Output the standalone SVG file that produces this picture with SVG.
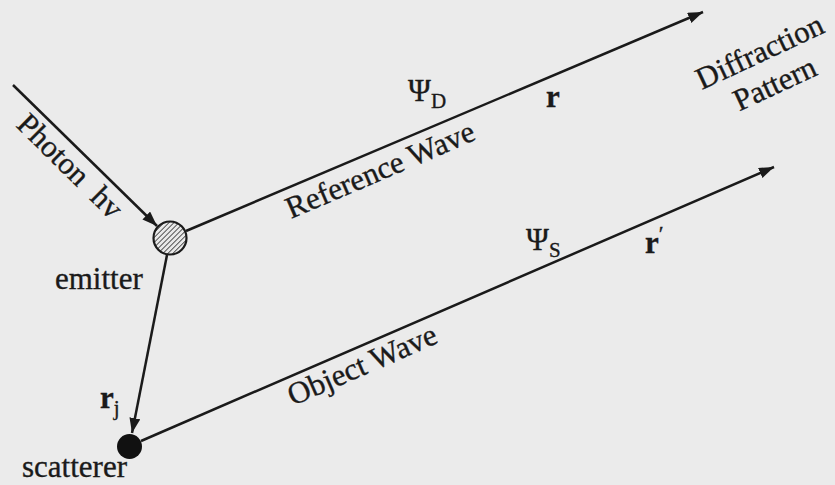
<svg xmlns="http://www.w3.org/2000/svg" width="835" height="485" viewBox="0 0 835 485">
  <style>
    .t { font-family: "Liberation Serif", "Times New Roman", serif; font-size: 31px; fill: #1a1a1a; stroke: #1a1a1a; stroke-width: 0.35px; }
    .b { font-weight: bold; }
    .ln { stroke: #1a1a1a; stroke-width: 2.5; fill: none; }
  </style>
  <defs>
    <marker id="arr" markerUnits="userSpaceOnUse" markerWidth="16" markerHeight="12" refX="15" refY="5.5" orient="auto">
      <path d="M0,0 L15,5.5 L0,11 z" fill="#1a1a1a"/>
    </marker>
    <pattern id="hatch" patternUnits="userSpaceOnUse" width="3.5" height="3.5" patternTransform="rotate(45)">
      <rect width="3.5" height="3.5" fill="#e8e8e8"/>
      <line x1="0" y1="0" x2="0" y2="3.5" stroke="#333" stroke-width="1.6"/>
    </pattern>
  </defs>
  <rect width="835" height="485" fill="#ebebeb"/>

  <g id="connectors">
    <line class="ln" x1="13" y1="85" x2="157" y2="226" marker-end="url(#arr)"/>
    <line class="ln" x1="186" y1="231" x2="703" y2="12" marker-end="url(#arr)"/>
    <line class="ln" x1="141" y1="441" x2="774" y2="167" marker-end="url(#arr)"/>
    <line class="ln" x1="167" y1="255" x2="132" y2="433" marker-end="url(#arr)"/>
  </g>

  <g id="emitter">
    <circle cx="170" cy="238" r="16.5" fill="url(#hatch)" stroke="#1a1a1a" stroke-width="2.2"/>
    <text class="t" x="55" y="289">emitter</text>
  </g>

  <g id="scatterer">
    <circle cx="129.5" cy="446.5" r="12.5" fill="#111"/>
    <text class="t" x="22" y="477">scatterer</text>
  </g>

  <g id="photon">
    <text class="t" transform="translate(15,126) rotate(44.6)" word-spacing="8">Photon hv</text>
  </g>

  <g id="reference-wave">
    <text class="t" transform="translate(291,219) rotate(-23.2)">Reference Wave</text>
    <text class="t" x="408" y="101" font-size="33">Ψ<tspan font-size="21" dy="7">D</tspan></text>
    <text class="t b" x="546" y="107" font-size="31">r</text>
  </g>

  <g id="object-wave">
    <text class="t" transform="translate(293,406) rotate(-23.5)">Object Wave</text>
    <text class="t" x="526" y="250" font-size="33">Ψ<tspan font-size="21" dy="7">S</tspan></text>
    <text class="t b" x="645" y="253" font-size="31">r<tspan font-weight="normal" font-size="22" dy="-12">′</tspan></text>
  </g>

  <g id="rj">
    <text class="t b" x="100" y="408" font-size="31">r<tspan font-weight="normal" font-size="21" dy="7">j</tspan></text>
  </g>

  <g id="diffraction-pattern">
    <text class="t" text-anchor="middle" transform="translate(764,61) rotate(-25)">Diffraction</text>
    <text class="t" text-anchor="middle" transform="translate(779,93) rotate(-25)">Pattern</text>
  </g>
</svg>
